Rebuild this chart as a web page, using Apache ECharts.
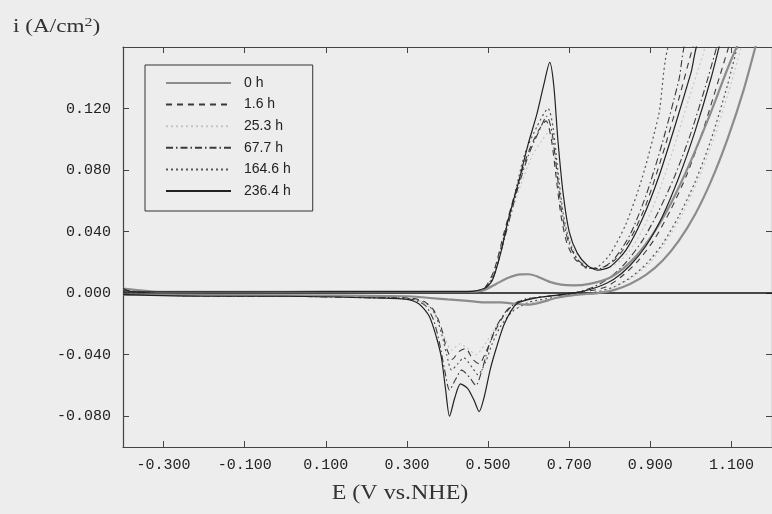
<!DOCTYPE html>
<html>
<head>
<meta charset="utf-8">
<script src="https://cdn.jsdelivr.net/npm/echarts@6/dist/echarts.min.js"></script>
<style>
html,body{margin:0;padding:0;background:#ededed;}
#chart{width:772px;height:514px;}
</style>
</head>
<body>
<div id="chart"></div>
<script>
// ---- data (E in V vs NHE, i in A/cm2), each scan is a closed loop: forward then reverse ----
var seriesNames = ['0 h', '1.6 h', '25.3 h', '67.7 h', '164.6 h', '236.4 h'];

var E0 = [-0.40,-0.30,-0.10,0.10,0.30,0.45,0.49,0.52,0.55,0.58,0.60,0.62,0.65,0.68,0.71,0.75,0.80,0.85,0.90,0.95,1.00,1.05,1.10,1.13,
          1.165,1.13,1.09,1.05,1.01,0.97,0.93,0.89,0.85,0.81,0.77,0.72,0.67,0.63,0.60,0.57,0.53,0.49,0.45,0.40,0.35,0.30,0.0,-0.40];
var I0 = [0.003,0.0008,0.0008,0.001,0.001,0.001,0.002,0.006,0.010,0.0122,0.0123,0.011,0.0075,0.0055,0.005,0.006,0.010,0.020,0.036,0.058,0.086,0.118,0.152,0.166,
          0.166,0.132,0.100,0.073,0.051,0.034,0.021,0.012,0.006,0.002,0.0,-0.001,-0.003,-0.006,-0.0075,-0.007,-0.006,-0.006,-0.005,-0.004,-0.003,-0.002,-0.0015,-0.001];

var E1 = [-0.40,-0.30,-0.10,0.10,0.30,0.45,0.49,0.515,0.54,0.57,0.60,0.625,0.643,0.656,0.668,0.68,0.695,0.715,0.74,0.77,0.81,0.85,0.89,0.93,0.97,1.005,1.015,
          1.10,1.07,1.03,0.99,0.95,0.91,0.87,0.83,0.79,0.74,0.68,0.62,0.57,0.54,0.515,0.495,0.478,0.462,0.445,0.428,0.412,0.398,0.384,0.366,0.34,0.30,0.10,-0.10,-0.40];
var I1 = [0.002,0.0005,0.0005,0.0008,0.001,0.001,0.003,0.015,0.040,0.068,0.092,0.106,0.112,0.100,0.075,0.050,0.032,0.022,0.017,0.016,0.021,0.035,0.058,0.090,0.126,0.160,0.166,
          0.166,0.140,0.106,0.077,0.054,0.035,0.021,0.011,0.004,0.001,-0.001,-0.003,-0.006,-0.014,-0.026,-0.038,-0.046,-0.043,-0.036,-0.038,-0.043,-0.036,-0.022,-0.011,-0.005,-0.003,-0.002,-0.002,-0.001];

var E2 = [-0.40,-0.30,-0.10,0.10,0.30,0.45,0.50,0.525,0.55,0.58,0.61,0.635,0.65,0.663,0.676,0.69,0.71,0.735,0.76,0.79,0.83,0.87,0.91,0.95,0.99,1.03,1.045,
          1.13,1.10,1.06,1.02,0.98,0.94,0.90,0.86,0.82,0.78,0.73,0.67,0.61,0.56,0.53,0.51,0.49,0.47,0.45,0.43,0.41,0.395,0.38,0.36,0.33,0.25,0.0,-0.40];
var I2 = [0.001,0.0005,0.0005,0.0008,0.001,0.001,0.004,0.020,0.045,0.070,0.090,0.100,0.105,0.092,0.068,0.045,0.029,0.020,0.016,0.016,0.022,0.036,0.058,0.088,0.122,0.155,0.166,
          0.166,0.137,0.103,0.075,0.052,0.034,0.020,0.011,0.005,0.001,-0.001,-0.003,-0.006,-0.011,-0.018,-0.026,-0.034,-0.040,-0.036,-0.033,-0.037,-0.030,-0.019,-0.010,-0.005,-0.003,-0.002,-0.001];

var E3 = [-0.40,-0.30,-0.10,0.10,0.30,0.45,0.49,0.515,0.54,0.57,0.60,0.625,0.645,0.658,0.67,0.683,0.70,0.72,0.745,0.775,0.81,0.85,0.89,0.93,0.97,0.995,
          1.07,1.04,1.00,0.96,0.92,0.88,0.84,0.80,0.76,0.71,0.65,0.59,0.55,0.52,0.50,0.485,0.47,0.455,0.435,0.42,0.405,0.393,0.38,0.365,0.345,0.31,0.20,0.0,-0.40];
var I3 = [0.001,0.0005,0.0005,0.0008,0.001,0.001,0.002,0.012,0.035,0.065,0.090,0.105,0.115,0.104,0.078,0.050,0.032,0.022,0.017,0.016,0.022,0.038,0.064,0.098,0.138,0.166,
          0.166,0.138,0.104,0.076,0.053,0.034,0.020,0.010,0.004,0.0,-0.002,-0.004,-0.010,-0.022,-0.036,-0.050,-0.060,-0.055,-0.050,-0.056,-0.063,-0.050,-0.032,-0.017,-0.008,-0.004,-0.003,-0.002,-0.001];

var E4 = [-0.40,-0.30,-0.10,0.10,0.30,0.45,0.49,0.51,0.53,0.56,0.59,0.62,0.648,0.66,0.672,0.685,0.70,0.72,0.745,0.77,0.80,0.84,0.88,0.92,0.96,
          1.12,1.09,1.05,1.01,0.97,0.93,0.89,0.85,0.81,0.77,0.72,0.66,0.60,0.56,0.53,0.51,0.495,0.475,0.46,0.44,0.425,0.41,0.398,0.385,0.37,0.35,0.32,0.28,0.10,-0.10,-0.40];
var I4 = [0.002,0.0005,0.0005,0.0008,0.001,0.001,0.003,0.010,0.028,0.058,0.090,0.108,0.120,0.108,0.080,0.052,0.034,0.022,0.016,0.017,0.025,0.045,0.075,0.115,0.166,
          0.166,0.135,0.100,0.072,0.050,0.032,0.019,0.010,0.004,0.001,-0.001,-0.003,-0.006,-0.012,-0.022,-0.033,-0.044,-0.053,-0.048,-0.042,-0.046,-0.050,-0.040,-0.026,-0.014,-0.007,-0.004,-0.003,-0.002,-0.002,-0.001];

var E5 = [-0.40,-0.38,-0.30,-0.10,0.10,0.30,0.45,0.49,0.51,0.53,0.55,0.575,0.60,0.62,0.637,0.652,0.662,0.672,0.685,0.70,0.72,0.745,0.77,0.80,0.84,0.88,0.92,0.96,1.00,1.025,
          1.075,1.05,1.01,0.97,0.93,0.89,0.85,0.81,0.77,0.73,0.68,0.62,0.57,0.54,0.52,0.505,0.49,0.478,0.466,0.45,0.432,0.418,0.405,0.395,0.385,0.372,0.355,0.33,0.30,0.20,0.0,-0.20,-0.40];
var I5 = [0.003,0.001,0.0008,0.0008,0.001,0.001,0.001,0.003,0.008,0.025,0.048,0.072,0.098,0.116,0.135,0.150,0.135,0.100,0.065,0.040,0.026,0.018,0.015,0.017,0.028,0.048,0.075,0.108,0.143,0.166,
          0.166,0.140,0.105,0.075,0.050,0.031,0.018,0.009,0.004,0.001,-0.001,-0.003,-0.007,-0.020,-0.036,-0.050,-0.068,-0.077,-0.070,-0.062,-0.059,-0.068,-0.080,-0.062,-0.042,-0.028,-0.015,-0.007,-0.004,-0.003,-0.002,-0.002,-0.001];

var xTicks = [-0.3, -0.1, 0.1, 0.3, 0.5, 0.7, 0.9, 1.1];
var yTicks = [-0.08, -0.04, 0.0, 0.04, 0.08, 0.12];

// ---- build ----
function pairs(E, I) { var out = []; for (var k = 0; k < E.length; k++) out.push([E[k], I[k]]); return out; }
var allE = [E0, E1, E2, E3, E4, E5];
var allI = [I0, I1, I2, I3, I4, I5];
var styles = [
  {color: '#8c8c8c', width: 2.2, type: 'solid'},
  {color: '#3a3a3a', width: 1.1, type: [6, 5]},
  {color: '#c4c4c4', width: 1.1, type: [2, 3]},
  {color: '#3a3a3a', width: 1.1, type: [7, 3, 1.5, 3]},
  {color: '#555555', width: 1.2, type: [2, 3]},
  {color: '#222222', width: 1.2, type: 'solid'}
];
var drawOrder = [2, 4, 3, 1, 0, 5];

var series = [];
for (var s = 0; s < 6; s++) {
  var st = styles[s];
  series.push({
    name: seriesNames[s],
    type: 'line',
    data: pairs(allE[s], allI[s]),
    symbol: 'none',
    showSymbol: false,
    smooth: 0.25,
    z: 2 + drawOrder.indexOf(s),
    lineStyle: {color: st.color, width: st.width, type: st.type},
    itemStyle: {color: st.color},
    emphasis: {disabled: true},
    markLine: s === 5 ? {
      silent: true, symbol: 'none', label: {show: false},
      lineStyle: {color: '#111', width: 1.6, type: 'solid'},
      data: [{yAxis: 0}]
    } : undefined
  });
}

var fmt3 = function (v) { return (+v).toFixed(3); };
var tickFont = {fontFamily: 'Liberation Mono', fontSize: 15, color: '#222'};

var chart = echarts.init(document.getElementById('chart'));
chart.setOption({
  backgroundColor: '#ededed',
  animation: false,
  grid: {left: 123, top: 47, width: 654, height: 400, containLabel: false},
  legend: {
    data: seriesNames,
    orient: 'vertical',
    left: 145, top: 65,
    padding: [11, 22, 13, 20],
    itemWidth: 65, itemHeight: 14, itemGap: 7.6,
    itemStyle: {opacity: 0, borderWidth: 0},
    lineStyle: {opacity: 1},
    borderColor: '#333', borderWidth: 1,
    backgroundColor: '#ededed',
    selectedMode: false,
    textStyle: {fontFamily: 'Liberation Sans', fontSize: 14, color: '#222', padding: [0, 0, 0, 8]}
  },
  xAxis: [{
    type: 'value', position: 'bottom', min: -0.4, max: 1.2,
    axisLine: {show: true, onZero: false, lineStyle: {color: '#444', width: 1.2}},
    axisTick: {show: true, inside: true, length: 6, customValues: xTicks, lineStyle: {color: '#444'}},
    axisLabel: Object.assign({customValues: xTicks, formatter: fmt3, margin: 11}, tickFont),
    splitLine: {show: false}
  }, {
    type: 'value', position: 'top', min: -0.4, max: 1.2,
    axisLine: {show: true, onZero: false, lineStyle: {color: '#444', width: 1.2}},
    axisTick: {show: true, inside: true, length: 6, customValues: xTicks, lineStyle: {color: '#444'}},
    axisLabel: {show: false},
    splitLine: {show: false}
  }],
  yAxis: [{
    type: 'value', position: 'left', min: -0.1, max: 0.16,
    axisLine: {show: true, onZero: false, lineStyle: {color: '#444', width: 1.2}},
    axisTick: {show: true, inside: true, length: 6, customValues: yTicks, lineStyle: {color: '#444'}},
    axisLabel: Object.assign({customValues: yTicks, formatter: fmt3, margin: 12}, tickFont),
    splitLine: {show: false}
  }, {
    type: 'value', position: 'right', min: -0.1, max: 0.16,
    axisLine: {show: true, onZero: false, lineStyle: {color: '#444', width: 1.2}},
    axisTick: {show: true, inside: true, length: 6, customValues: yTicks, lineStyle: {color: '#444'}},
    axisLabel: {show: false},
    splitLine: {show: false}
  }],
  graphic: [{
    type: 'text', x: 13, y: 16, scaleX: 1.22,
    style: {
      text: 'i (A/cm{sup|2})',
      font: '19px "Liberation Serif"', fill: '#333',
      rich: {sup: {fontSize: 13, fontFamily: 'Liberation Serif', verticalAlign: 'top', padding: [0, 0, 9, 0], fill: '#333'}}
    }
  }, {
    type: 'text', x: 400, y: 494, scaleX: 1.2,
    style: {text: 'E (V vs.NHE)', font: '20px "Liberation Serif"', fill: '#333', align: 'center', verticalAlign: 'middle'}
  }],
  series: series
});
</script>
</body>
</html>
